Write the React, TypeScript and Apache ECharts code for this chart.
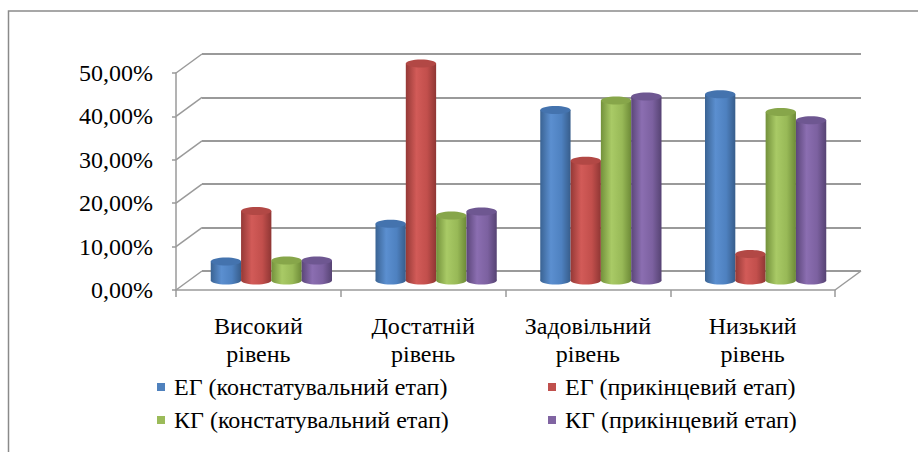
import React, { useEffect, useRef } from "react";
import * as echarts from "echarts";

// Categories and series values (shares of students per level)
const categories = ["Високий\nрівень", "Достатній\nрівень", "Задовільний\nрівень", "Низький\nрівень"];
const seriesNames = [
  "ЕГ (констатувальний етап)",
  "ЕГ (прикінцевий етап)",
  "КГ (констатувальний етап)",
  "КГ (прикінцевий етап)",
];
const egStart = [0.044, 0.131, 0.393, 0.429];
const egFinal = [0.16, 0.5, 0.276, 0.061];
const kgStart = [0.046, 0.15, 0.415, 0.388];
const kgFinal = [0.046, 0.159, 0.424, 0.369];
const yMin = 0;
const yMax = 0.5;
const yStep = 0.1;

const seriesValues = [egStart, egFinal, kgStart, kgFinal];

// Palette: legend colour, cylinder shading stops, cap colour
const legendColors = ["#4f81bd", "#c0504d", "#9bbb59", "#8064a2"];
const bodyStops = [
  ["#3a6393", "#5b8fd0", "#4e81c0", "#375d8b"],
  ["#953936", "#d25b58", "#c24f4c", "#8f3634"],
  ["#73913b", "#a9ca66", "#98b957", "#6d8a37"],
  ["#5b4679", "#8b6eb1", "#7c61a0", "#564373"],
];
const capColors = ["#4473ae", "#b24845", "#87a64a", "#6e5791"];

// 3D depth offset of the back wall relative to the front plane
const DX = 26;
const DY = 19;
const FRONT = { left: 176, right: 83, top: 73, bottom: 162 };
const BACK = {
  left: FRONT.left + DX,
  right: FRONT.right - DX,
  top: FRONT.top - DY,
  bottom: FRONT.bottom + DY,
};
const BAR_RATIO = 0.184;
const CAP_RY = 4;
const FONT = "Liberation Serif, DejaVu Serif, serif";
const FONT_SIZE = 24;
const LINE = "#9a9a9a";

const fmtPct = (v: number) => (v * 100).toFixed(2).replace(".", ",") + "%";

export default function App() {
  const ref = useRef<HTMLDivElement>(null);

  useEffect(() => {
    if (!ref.current) return;
    const chart = echarts.init(ref.current, null, { renderer: "svg" });

    const ticks: number[] = [];
    for (let v = yMin; v <= yMax + 1e-9; v += yStep) ticks.push(+v.toFixed(4));

    // Side wall diagonals and the right floor edge
    const wallSeries = {
      type: "custom",
      xAxisIndex: 0,
      yAxisIndex: 0,
      silent: true,
      z: 1,
      data: [[0, 0]],
      renderItem: (params: any, api: any) => {
        const band = api.size([1, 0])[0];
        const first = api.coord([0, 0]);
        const leftX = first[0] - band / 2;
        const rightX = api.coord([categories.length - 1, 0])[0] + band / 2;
        const children: any[] = ticks.map((t) => {
          const y = api.coord([0, t])[1];
          return {
            type: "line",
            shape: { x1: leftX, y1: y, x2: leftX + DX, y2: y - DY },
            style: { stroke: LINE, lineWidth: 1.5 },
          };
        });
        const y0 = first[1];
        children.push({
          type: "line",
          shape: { x1: rightX, y1: y0, x2: rightX + DX, y2: y0 - DY },
          style: { stroke: LINE, lineWidth: 1.5 },
        });
        return { type: "group", children };
      },
    };

    const cylinderSeries = seriesValues.map((vals, s) => ({
      type: "custom",
      name: seriesNames[s],
      xAxisIndex: 0,
      yAxisIndex: 0,
      z: 5 + s,
      itemStyle: { color: legendColors[s] },
      data: vals.map((v, i) => [i, v]),
      renderItem: (params: any, api: any) => {
        const cat = api.value(0);
        const val = api.value(1);
        const band = api.size([1, 0])[0];
        const barW = band * BAR_RATIO;
        const base = api.coord([cat, 0]);
        const top = api.coord([cat, val]);
        const x0 = base[0] + DX / 2 - 2 * barW + s * barW;
        const yb = base[1] - DY / 2;
        const yt = top[1] - DY / 2;
        const stops = bodyStops[s];
        const grad = new echarts.graphic.LinearGradient(0, 0, 1, 0, [
          { offset: 0, color: stops[0] },
          { offset: 0.35, color: stops[1] },
          { offset: 0.7, color: stops[2] },
          { offset: 1, color: stops[3] },
        ]);
        return {
          type: "group",
          children: [
            {
              type: "ellipse",
              shape: { cx: x0 + barW / 2, cy: yb, rx: barW / 2, ry: CAP_RY },
              style: { fill: grad },
            },
            {
              type: "rect",
              shape: { x: x0, y: yt, width: barW, height: Math.max(0, yb - yt) },
              style: { fill: grad },
            },
            {
              type: "ellipse",
              shape: { cx: x0 + barW / 2, cy: yt, rx: barW / 2, ry: CAP_RY },
              style: { fill: capColors[s] },
            },
          ],
        };
      },
    }));

    const legendPos = [
      { left: 157, top: 375 },
      { left: 548, top: 375 },
      { left: 157, top: 408 },
      { left: 548, top: 408 },
    ];

    chart.setOption({
      animation: false,
      backgroundColor: "#ffffff",
      textStyle: { fontFamily: FONT },
      grid: [
        { ...FRONT, containLabel: false },
        { ...BACK, containLabel: false },
      ],
      xAxis: [
        {
          type: "category",
          gridIndex: 0,
          data: categories,
          axisLine: { show: true, lineStyle: { color: LINE, width: 1.5 } },
          axisTick: { show: true, interval: 0, length: 7, lineStyle: { color: LINE, width: 1.5 } },
          axisLabel: {
            interval: 0,
            margin: 22,
            color: "#000",
            fontFamily: FONT,
            fontSize: FONT_SIZE,
            lineHeight: 28,
          },
          splitLine: { show: false },
        },
        {
          type: "category",
          gridIndex: 1,
          data: categories,
          show: false,
        },
      ],
      yAxis: [
        {
          type: "value",
          gridIndex: 0,
          min: yMin,
          max: yMax,
          interval: yStep,
          axisLine: { show: true, lineStyle: { color: LINE, width: 1.5 } },
          axisTick: { show: true, length: 4, lineStyle: { color: LINE, width: 1.5 } },
          axisLabel: {
            margin: 23,
            color: "#000",
            fontFamily: FONT,
            fontSize: FONT_SIZE,
            formatter: fmtPct,
          },
          splitLine: { show: false },
        },
        {
          type: "value",
          gridIndex: 1,
          min: yMin,
          max: yMax,
          interval: yStep,
          axisLine: { show: false },
          axisTick: { show: false },
          axisLabel: { show: false },
          splitLine: { show: true, lineStyle: { color: LINE, width: 2 } },
        },
      ],
      legend: seriesNames.map((n, i) => ({
        data: [n],
        ...legendPos[i],
        padding: 0,
        icon: "rect",
        itemWidth: 8,
        itemHeight: 8,
        selectedMode: false,
        textStyle: {
          color: "#000",
          fontFamily: FONT,
          fontSize: FONT_SIZE,
          padding: [0, 0, 0, 4],
        },
      })),
      graphic: [
        {
          type: "rect",
          shape: { x: 8.5, y: 11, width: 1200, height: 800 },
          style: { fill: "none", stroke: "#8a8a8a", lineWidth: 1.5 },
          silent: true,
          z: 0,
        },
      ],
      series: [wallSeries, ...cylinderSeries],
    });

    return () => chart.dispose();
  }, []);

  return (
    <div
      ref={ref}
      style={{ position: "fixed", left: 0, top: 0, width: 918, height: 452 }}
    />
  );
}
